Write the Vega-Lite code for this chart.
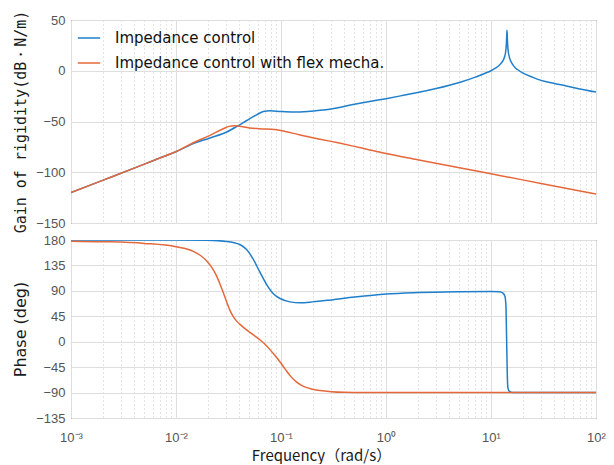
{
  "$schema": "https://vega.github.io/schema/vega-lite/v6.json",
  "background": "white",
  "padding": {"left": 12, "top": 9, "right": 18, "bottom": 0},
  "spacing": 17,
  "bounds": "flush",
  "config": {
    "font": "Noto Sans CJK JP",
    "view": {"stroke": "#333333", "strokeWidth": 1},
    "axis": {
      "labelFont": "Liberation Sans",
      "labelFontSize": 13,
      "labelColor": "#555555",
      "titleFont": "Noto Sans CJK JP",
      "titleFontSize": 15,
      "titleFontWeight": "normal",
      "titleColor": "#1a1a1a",
      "gridColor": "#dedede",
      "gridWidth": 1,
      "domain": false,
      "tickColor": "#444444"
    },
    "line": {"strokeWidth": 1.5, "interpolate": "monotone"}
  },
  "datasets": {
    "mag": [
      {"f": 0.001, "s": "Impedance control", "v": -120},
      {"f": 0.002, "s": "Impedance control", "v": -108},
      {"f": 0.005, "s": "Impedance control", "v": -92},
      {"f": 0.007, "s": "Impedance control", "v": -86},
      {"f": 0.01, "s": "Impedance control", "v": -79.8},
      {"f": 0.0146, "s": "Impedance control", "v": -71.8},
      {"f": 0.0211, "s": "Impedance control", "v": -66.2},
      {"f": 0.0304, "s": "Impedance control", "v": -60.3},
      {"f": 0.0379, "s": "Impedance control", "v": -54.9},
      {"f": 0.0471, "s": "Impedance control", "v": -49},
      {"f": 0.0587, "s": "Impedance control", "v": -43.4},
      {"f": 0.068, "s": "Impedance control", "v": -40.2},
      {"f": 0.0786, "s": "Impedance control", "v": -39.4},
      {"f": 0.1, "s": "Impedance control", "v": -40.2},
      {"f": 0.131, "s": "Impedance control", "v": -40.7},
      {"f": 0.18, "s": "Impedance control", "v": -40.1},
      {"f": 0.235, "s": "Impedance control", "v": -39},
      {"f": 0.3, "s": "Impedance control", "v": -37.6},
      {"f": 0.5, "s": "Impedance control", "v": -33},
      {"f": 0.7, "s": "Impedance control", "v": -30.3},
      {"f": 1, "s": "Impedance control", "v": -27.5},
      {"f": 1.5, "s": "Impedance control", "v": -24},
      {"f": 2, "s": "Impedance control", "v": -21.5},
      {"f": 3, "s": "Impedance control", "v": -17.5},
      {"f": 5, "s": "Impedance control", "v": -11.5},
      {"f": 7, "s": "Impedance control", "v": -6.5},
      {"f": 9, "s": "Impedance control", "v": -2},
      {"f": 10, "s": "Impedance control", "v": 0},
      {"f": 11, "s": "Impedance control", "v": 2.5},
      {"f": 12, "s": "Impedance control", "v": 5.5},
      {"f": 13, "s": "Impedance control", "v": 10},
      {"f": 13.5, "s": "Impedance control", "v": 14},
      {"f": 13.8, "s": "Impedance control", "v": 19},
      {"f": 14.0, "s": "Impedance control", "v": 26},
      {"f": 14.1, "s": "Impedance control", "v": 33},
      {"f": 14.2, "s": "Impedance control", "v": 40},
      {"f": 14.3, "s": "Impedance control", "v": 33},
      {"f": 14.4, "s": "Impedance control", "v": 26},
      {"f": 14.6, "s": "Impedance control", "v": 19},
      {"f": 15, "s": "Impedance control", "v": 13},
      {"f": 16, "s": "Impedance control", "v": 6.5},
      {"f": 17, "s": "Impedance control", "v": 3},
      {"f": 18, "s": "Impedance control", "v": 1},
      {"f": 20, "s": "Impedance control", "v": -2},
      {"f": 25, "s": "Impedance control", "v": -6.5},
      {"f": 30, "s": "Impedance control", "v": -9.5},
      {"f": 40, "s": "Impedance control", "v": -12.5},
      {"f": 50, "s": "Impedance control", "v": -14.5},
      {"f": 70, "s": "Impedance control", "v": -18},
      {"f": 100, "s": "Impedance control", "v": -21},
      {"f": 0.001, "s": "Impedance control with flex mecha.", "v": -120},
      {"f": 0.002, "s": "Impedance control with flex mecha.", "v": -108},
      {"f": 0.005, "s": "Impedance control with flex mecha.", "v": -92},
      {"f": 0.007, "s": "Impedance control with flex mecha.", "v": -86},
      {"f": 0.01, "s": "Impedance control with flex mecha.", "v": -79.6},
      {"f": 0.0146, "s": "Impedance control with flex mecha.", "v": -70.9},
      {"f": 0.0211, "s": "Impedance control with flex mecha.", "v": -63.6},
      {"f": 0.0282, "s": "Impedance control with flex mecha.", "v": -57.1},
      {"f": 0.032, "s": "Impedance control with flex mecha.", "v": -54.8},
      {"f": 0.036, "s": "Impedance control with flex mecha.", "v": -54.2},
      {"f": 0.04, "s": "Impedance control with flex mecha.", "v": -54.7},
      {"f": 0.05, "s": "Impedance control with flex mecha.", "v": -56.3},
      {"f": 0.062, "s": "Impedance control with flex mecha.", "v": -57.1},
      {"f": 0.087, "s": "Impedance control with flex mecha.", "v": -57.9},
      {"f": 0.11, "s": "Impedance control with flex mecha.", "v": -59.8},
      {"f": 0.149, "s": "Impedance control with flex mecha.", "v": -63},
      {"f": 0.235, "s": "Impedance control with flex mecha.", "v": -67.4},
      {"f": 0.35, "s": "Impedance control with flex mecha.", "v": -71},
      {"f": 0.5, "s": "Impedance control with flex mecha.", "v": -74.5},
      {"f": 0.7, "s": "Impedance control with flex mecha.", "v": -78},
      {"f": 1, "s": "Impedance control with flex mecha.", "v": -81.6},
      {"f": 2, "s": "Impedance control with flex mecha.", "v": -87.6},
      {"f": 5, "s": "Impedance control with flex mecha.", "v": -95.5},
      {"f": 10, "s": "Impedance control with flex mecha.", "v": -101.5},
      {"f": 20, "s": "Impedance control with flex mecha.", "v": -107.5},
      {"f": 50, "s": "Impedance control with flex mecha.", "v": -115.5},
      {"f": 100, "s": "Impedance control with flex mecha.", "v": -121.5}
    ],
    "phase": [
      {"f": 0.001, "s": "Impedance control", "v": 180},
      {"f": 0.01, "s": "Impedance control", "v": 180},
      {"f": 0.02, "s": "Impedance control", "v": 179.5},
      {"f": 0.03, "s": "Impedance control", "v": 177.5},
      {"f": 0.0405, "s": "Impedance control", "v": 172},
      {"f": 0.047, "s": "Impedance control", "v": 163},
      {"f": 0.054, "s": "Impedance control", "v": 147},
      {"f": 0.063, "s": "Impedance control", "v": 123},
      {"f": 0.073, "s": "Impedance control", "v": 101},
      {"f": 0.0855, "s": "Impedance control", "v": 84},
      {"f": 0.098, "s": "Impedance control", "v": 76.5},
      {"f": 0.122, "s": "Impedance control", "v": 70.5},
      {"f": 0.152, "s": "Impedance control", "v": 69},
      {"f": 0.2, "s": "Impedance control", "v": 70.5},
      {"f": 0.3, "s": "Impedance control", "v": 74},
      {"f": 0.5, "s": "Impedance control", "v": 79},
      {"f": 1, "s": "Impedance control", "v": 84.5},
      {"f": 2, "s": "Impedance control", "v": 87},
      {"f": 5, "s": "Impedance control", "v": 88.5},
      {"f": 10, "s": "Impedance control", "v": 89},
      {"f": 12, "s": "Impedance control", "v": 88.5},
      {"f": 13, "s": "Impedance control", "v": 86},
      {"f": 13.6, "s": "Impedance control", "v": 80},
      {"f": 13.9, "s": "Impedance control", "v": 60},
      {"f": 14.0, "s": "Impedance control", "v": 30},
      {"f": 14.1, "s": "Impedance control", "v": 0},
      {"f": 14.2, "s": "Impedance control", "v": -30},
      {"f": 14.3, "s": "Impedance control", "v": -60},
      {"f": 14.5, "s": "Impedance control", "v": -82},
      {"f": 15, "s": "Impedance control", "v": -88},
      {"f": 16, "s": "Impedance control", "v": -90},
      {"f": 100, "s": "Impedance control", "v": -90},
      {"f": 0.001, "s": "Impedance control with flex mecha.", "v": 178},
      {"f": 0.002, "s": "Impedance control with flex mecha.", "v": 177},
      {"f": 0.005, "s": "Impedance control with flex mecha.", "v": 174},
      {"f": 0.01, "s": "Impedance control with flex mecha.", "v": 168},
      {"f": 0.0146, "s": "Impedance control with flex mecha.", "v": 160},
      {"f": 0.017, "s": "Impedance control with flex mecha.", "v": 153},
      {"f": 0.0196, "s": "Impedance control with flex mecha.", "v": 143},
      {"f": 0.022, "s": "Impedance control with flex mecha.", "v": 131},
      {"f": 0.0244, "s": "Impedance control with flex mecha.", "v": 116},
      {"f": 0.0265, "s": "Impedance control with flex mecha.", "v": 100},
      {"f": 0.0282, "s": "Impedance control with flex mecha.", "v": 87},
      {"f": 0.03, "s": "Impedance control with flex mecha.", "v": 73},
      {"f": 0.0327, "s": "Impedance control with flex mecha.", "v": 55},
      {"f": 0.035, "s": "Impedance control with flex mecha.", "v": 45},
      {"f": 0.038, "s": "Impedance control with flex mecha.", "v": 36},
      {"f": 0.042, "s": "Impedance control with flex mecha.", "v": 28.5},
      {"f": 0.047, "s": "Impedance control with flex mecha.", "v": 21},
      {"f": 0.055, "s": "Impedance control with flex mecha.", "v": 11.5},
      {"f": 0.063, "s": "Impedance control with flex mecha.", "v": 3.5},
      {"f": 0.07, "s": "Impedance control with flex mecha.", "v": -4},
      {"f": 0.0785, "s": "Impedance control with flex mecha.", "v": -14},
      {"f": 0.088, "s": "Impedance control with flex mecha.", "v": -25},
      {"f": 0.098, "s": "Impedance control with flex mecha.", "v": -36},
      {"f": 0.11, "s": "Impedance control with flex mecha.", "v": -49},
      {"f": 0.122, "s": "Impedance control with flex mecha.", "v": -60},
      {"f": 0.14, "s": "Impedance control with flex mecha.", "v": -71},
      {"f": 0.164, "s": "Impedance control with flex mecha.", "v": -79},
      {"f": 0.2, "s": "Impedance control with flex mecha.", "v": -84},
      {"f": 0.236, "s": "Impedance control with flex mecha.", "v": -86.5},
      {"f": 0.3, "s": "Impedance control with flex mecha.", "v": -88.5},
      {"f": 0.4, "s": "Impedance control with flex mecha.", "v": -89.6},
      {"f": 0.6, "s": "Impedance control with flex mecha.", "v": -90},
      {"f": 100, "s": "Impedance control with flex mecha.", "v": -90}
    ]
  },
  "resolve": {"legend": {"color": "independent"}},
  "vconcat": [
    {
      "width": 525,
      "height": 203,
      "data": {"name": "mag"},
      "mark": {"type": "line", "clip": true},
      "encoding": {
        "x": {
          "field": "f", "type": "quantitative",
          "scale": {"type": "log", "domain": [0.001, 100], "nice": false},
          "axis": {
            "title": null, "labels": false, "labelPadding": 0,
            "values": [0.001,0.002,0.003,0.004,0.005,0.006,0.007,0.008,0.009,0.01,0.02,0.03,0.04,0.05,0.06,0.07,0.08,0.09,0.1,0.2,0.3,0.4,0.5,0.6,0.7,0.8,0.9,1,2,3,4,5,6,7,8,9,10,20,30,40,50,60,70,80,90,100],
            "gridDash": {"condition": {"test": "indexof([0.001,0.01,0.1,1,10,100], datum.value) >= 0", "value": []}, "value": [1, 3]},
            "gridColor": {"condition": {"test": "indexof([0.001,0.01,0.1,1,10,100], datum.value) >= 0", "value": "#dedede"}, "value": "#c8c8c8"},
            "ticks": false
          }
        },
        "y": {
          "field": "v", "type": "quantitative",
          "scale": {"domain": [-150, 50], "nice": false},
          "axis": {"values": [-150, -100, -50, 0, 50], "title": "Gain of rigidity(dB・N/m)", "titleFont": "DejaVu Sans Mono", "titleFontSize": 15, "labelPadding": 6, "titlePadding": 7, "ticks": false}
        },
        "color": {
          "field": "s", "type": "nominal",
          "scale": {"domain": ["Impedance control", "Impedance control with flex mecha."], "range": ["#1f7fcb", "#e5683a"]},
          "legend": {
            "orient": "top-left", "offset": 2, "title": null, "padding": 4,
            "symbolType": "stroke", "symbolSize": 500, "symbolStrokeWidth": 2,
            "labelFont": "DejaVu Sans", "labelFontSize": 15, "labelColor": "#111111", "labelOffset": 14, "rowPadding": 5, "labelLimit": 400
          }
        }
      }
    },
    {
      "width": 525,
      "height": 178,
      "data": {"name": "phase"},
      "mark": {"type": "line", "clip": true},
      "encoding": {
        "x": {
          "field": "f", "type": "quantitative",
          "scale": {"type": "log", "domain": [0.001, 100], "nice": false},
          "axis": {
            "title": "Frequency（rad/s）", "titleFontSize": 15, "titlePadding": 4, "titleX": 250, "titleAlign": "center",
            "values": [0.001,0.002,0.003,0.004,0.005,0.006,0.007,0.008,0.009,0.01,0.02,0.03,0.04,0.05,0.06,0.07,0.08,0.09,0.1,0.2,0.3,0.4,0.5,0.6,0.7,0.8,0.9,1,2,3,4,5,6,7,8,9,10,20,30,40,50,60,70,80,90,100],
            "labelExpr": "indexof([0.001,0.01,0.1,1,10,100], datum.value) >= 0 ? ['10⁻³','10⁻²','10⁻¹','10⁰','10¹','10²'][indexof([0.001,0.01,0.1,1,10,100], datum.value)] : ''",
            "labelOverlap": false, "labelBound": false, "labelFlush": false, "labelPadding": 13, "labelFontSize": 13,
            "gridDash": {"condition": {"test": "indexof([0.001,0.01,0.1,1,10,100], datum.value) >= 0", "value": []}, "value": [1, 3]},
            "gridColor": {"condition": {"test": "indexof([0.001,0.01,0.1,1,10,100], datum.value) >= 0", "value": "#dedede"}, "value": "#c8c8c8"},
            "ticks": false
          }
        },
        "y": {
          "field": "v", "type": "quantitative",
          "scale": {"domain": [-135, 180], "nice": false},
          "axis": {"values": [-135, -90, -45, 0, 45, 90, 135, 180], "title": "Phase (deg)", "titleFont": "DejaVu Sans", "titleFontSize": 16, "labelPadding": 6, "titlePadding": 7, "ticks": false}
        },
        "color": {
          "field": "s", "type": "nominal",
          "scale": {"domain": ["Impedance control", "Impedance control with flex mecha."], "range": ["#1f7fcb", "#e5683a"]},
          "legend": null
        }
      }
    }
  ]
}
